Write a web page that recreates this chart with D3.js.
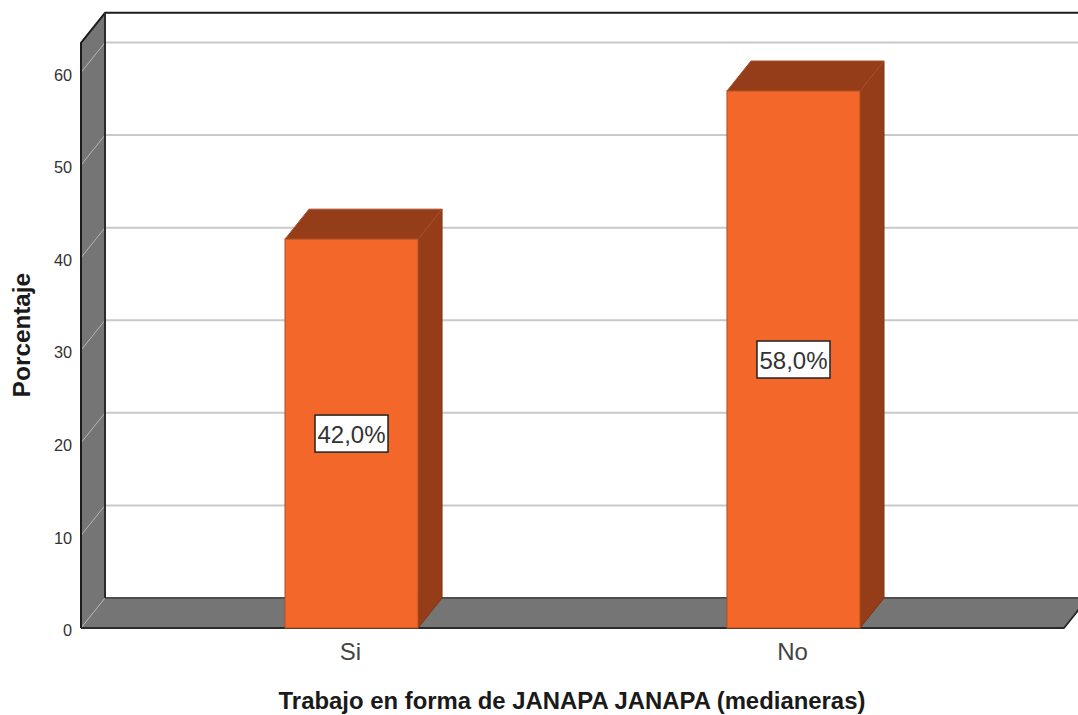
<!DOCTYPE html>
<html><head><meta charset="utf-8">
<script src="https://cdn.jsdelivr.net/npm/d3@7/dist/d3.min.js"></script>
<style>html,body{margin:0;padding:0;background:#fff;overflow:hidden}svg{display:block}text{font-family:"Liberation Sans",Arial,sans-serif}</style>
</head><body><svg id="c" width="1078" height="715"></svg>
<script>
const categories = ["Si", "No"];
const values = [42.0, 58.0];
const valueLabels = ["42,0%", "58,0%"];
const yTicks = [0, 10, 20, 30, 40, 50, 60];
const xTitle = "Trabajo en forma de JANAPA JANAPA (medianeras)";
const yTitle = "Porcentaje";
const yTop = 63.2;

const svg = d3.select("#c");
const dx = 24, dy = -30;
const y = d3.scaleLinear().domain([0, 60]).range([628, 72.5]);
const x = d3.scaleBand().domain(categories).range([285, 860]).paddingInner(0.699);
const L = 81, R = 1064;
const pts = a => a.map(p => p.join(",")).join(" ");
const wall = "#757575", edge = "#2b2b2b";

// left wall
svg.append("polygon").attr("points", pts([[L,y(0)],[L+dx,y(0)+dy],[L+dx,y(yTop)+dy],[L,y(yTop)]]))
  .attr("fill", wall);
// floor
svg.append("polygon").attr("points", pts([[L,y(0)],[R,y(0)],[R+dx,y(0)+dy],[L+dx,y(0)+dy]]))
  .attr("fill", wall);

// gridlines: back wall and slanted on left wall
const grid = yTicks.filter(d => d > 0);
svg.selectAll(".gb").data(grid).join("line").attr("class","gb")
  .attr("x1", L+dx).attr("x2", 1078).attr("y1", d => y(d)+dy).attr("y2", d => y(d)+dy)
  .attr("stroke", "#c9c9c9").attr("stroke-width", 2);
svg.selectAll(".gs").data(yTicks).join("line").attr("class","gs")
  .attr("x1", L).attr("x2", L+dx).attr("y1", d => y(d)).attr("y2", d => y(d)+dy)
  .attr("stroke", "#b5b5b5").attr("stroke-width", 1);

// frame edges
const path = (a, c, w) => svg.append("polyline").attr("points", pts(a)).attr("fill","none")
  .attr("stroke", c).attr("stroke-width", w).attr("stroke-linejoin","round");
path([[L+dx,y(0)+dy],[1078,y(0)+dy]], "#4f4f4f", 2);
path([[L,y(0)],[L,y(yTop)],[L+dx,y(yTop)+dy],[1078,y(yTop)+dy]], "#1c1c1c", 2);
path([[L+dx,y(yTop)+dy],[L+dx,y(0)+dy]], edge, 2);
path([[L,y(0)],[R,y(0)],[R+dx,y(0)+dy]], edge, 2);

// bars
const bw = x.bandwidth();
const g = svg.selectAll(".bar").data(categories).join("g").attr("class","bar");
const v = i => values[i];
g.append("polygon").attr("fill","#953d18").attr("stroke","#7f3413")
  .attr("points",(c,i)=>pts([[x(c)+bw,y(v(i))],[x(c)+bw+dx,y(v(i))+dy],[x(c)+bw+dx,y(0)+dy],[x(c)+bw,y(0)]]));
g.append("polygon").attr("fill","#953d18").attr("stroke","#a8502c")
  .attr("points",(c,i)=>pts([[x(c),y(v(i))],[x(c)+dx,y(v(i))+dy],[x(c)+bw+dx,y(v(i))+dy],[x(c)+bw,y(v(i))]]));
g.append("rect").attr("fill","#f4672a").attr("stroke","#b04f22").attr("stroke-width",1)
  .attr("x",c=>x(c)).attr("width",bw).attr("y",(c,i)=>y(v(i))).attr("height",(c,i)=>y(0)-y(v(i)));

// value labels
const lab = svg.selectAll(".lab").data(categories).join("g").attr("class","lab")
  .attr("transform",(c,i)=>`translate(${x(c)+bw/2},${(y(0)+y(v(i)))/2})`);
lab.append("rect").attr("x",-36.5).attr("y",-18.5).attr("width",73).attr("height",37)
  .attr("fill","#fff").attr("stroke","#222").attr("stroke-width",1.5);
lab.append("text").attr("text-anchor","middle").attr("y",9).attr("font-size",24).attr("fill","#333")
  .text((c,i)=>valueLabels[i]);

// axes
const ay = svg.append("g").attr("transform","translate(72,2.5)")
  .call(d3.axisLeft(y).tickValues(yTicks).tickSize(0).tickPadding(0));
ay.select(".domain").remove();
ay.selectAll("text").attr("font-size",16.3).attr("fill","#333").style("font-family",'"Liberation Sans",Arial,sans-serif');
const ax = svg.append("g").attr("transform","translate(0,643)")
  .call(d3.axisBottom(x).tickSize(0).tickPadding(0));
ax.select(".domain").remove();
ax.selectAll("text").attr("font-size",24).attr("fill","#444").attr("x",-1).style("font-family",'"Liberation Sans",Arial,sans-serif');

svg.append("text").attr("x",572).attr("y",709).attr("text-anchor","middle")
  .attr("font-size",23.9).attr("font-weight","bold").attr("fill","#1a1a1a").text(xTitle);
svg.append("text").attr("transform","translate(29.5,335) rotate(-90)").attr("text-anchor","middle")
  .attr("font-size",24.3).attr("font-weight","bold").attr("fill","#1a1a1a").text(yTitle);
</script></body></html>
